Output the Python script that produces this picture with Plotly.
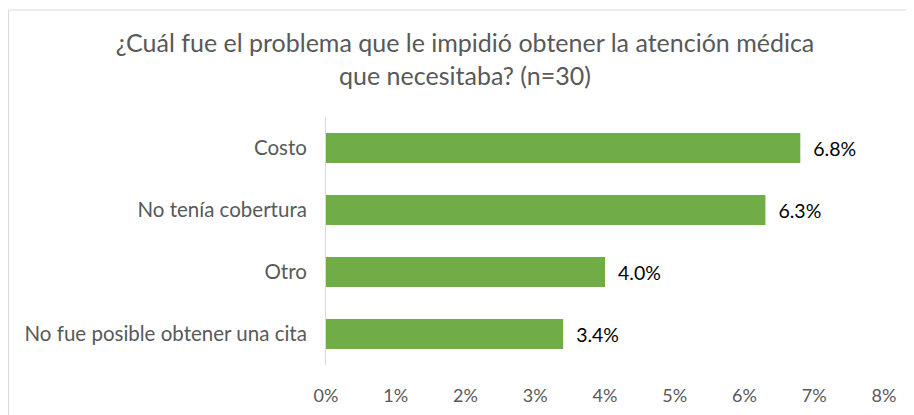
import plotly.graph_objects as go

# datos
categorias = ['No fue posible obtener una cita', 'Otro', 'No tenía cobertura', 'Costo']
porcentajes = [3.4, 4.0, 6.3, 6.8]
etiquetas = ['3.4%', '4.0%', '6.3%', '6.8%']
ticks_x = [0, 1, 2, 3, 4, 5, 6, 7, 8]
ticks_x_texto = ['0%', '1%', '2%', '3%', '4%', '5%', '6%', '7%', '8%']

fuente = 'Lato, Roboto, sans-serif'
gris = '#595959'

fig = go.Figure(go.Bar(
    y=categorias,
    x=porcentajes,
    orientation='h',
    marker=dict(color='#70AD47', line=dict(width=0)),
    text=['  ' + t for t in etiquetas],
    textposition='outside',
    textfont=dict(color='black', size=19.5, family=fuente),
    cliponaxis=False,
))

# la página añade ~8px de margen, por eso los márgenes están corridos
fig.update_layout(
    width=914, height=415,
    margin=dict(l=318, r=38, t=109, b=58),
    plot_bgcolor='white',
    paper_bgcolor='white',
    bargap=0.52,
    showlegend=False,
    font=dict(family=fuente, color=gris, size=19),
    title=dict(
        text='¿Cuál fue el problema que le impidió obtener la atención médica<br>que necesitaba? (n=30)',
        x=0.5, xanchor='center', xref='container',
        y=1 - 44/415, yanchor='top',
        font=dict(size=25, color=gris, family=fuente),
    ),
    xaxis=dict(
        range=[0, 8], tickvals=ticks_x, ticktext=ticks_x_texto,
        showgrid=False, zeroline=False, showline=False,
        ticks='', ticklabelstandoff=18,
        tickfont=dict(size=18, color=gris),
    ),
    yaxis=dict(
        showgrid=False, zeroline=False,
        showline=True, linecolor='#D9D9D9', linewidth=1,
        ticks='', ticklabelstandoff=14,
        tickfont=dict(size=20.5, color=gris),
    ),
    shapes=[dict(
        type='rect', xref='paper', yref='paper',
        x0=-318/558 + 0.001, x1=1.2, y0=-0.5, y1=1 + 107/248,
        line=dict(color='#D9D9D9', width=1),
        layer='below',
    )],
)

fig.write_html('out.html')
